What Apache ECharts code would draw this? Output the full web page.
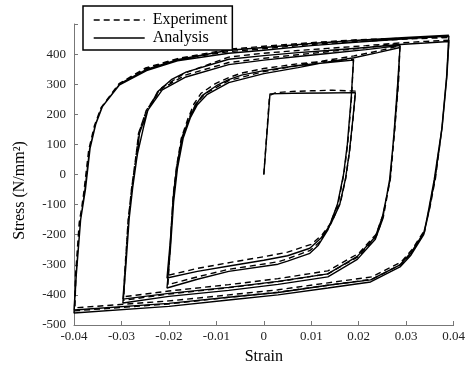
<!DOCTYPE html>
<html>
<head>
<meta charset="utf-8">
<script src="https://cdn.jsdelivr.net/npm/echarts@6/dist/echarts.min.js"></script>
<style>html,body{margin:0;padding:0;background:#fff}#c{width:468px;height:374px}</style>
</head>
<body>
<div id="c"></div>
<script>
// ---- data (strain, stress in N/mm^2) ----
const seriesNames = ['Experiment', 'Analysis'];
const xTicks = [-0.04, -0.03, -0.02, -0.01, 0, 0.01, 0.02, 0.03, 0.04];
const yTicks = [-500, -400, -300, -200, -100, 0, 100, 200, 300, 400];

const analysisPoints = [
  [0,0],[0.0013,268],[0.006,270],[0.013,271],[0.0193,272],
  [0.0188,190],[0.018,70],[0.0172,-15],[0.016,-100],[0.0141,-165],[0.012,-212],[0.0097,-245],[0.005,-270],[0,-285],[-0.007,-303],[-0.014,-322],[-0.0204,-344],
  [-0.0197,-220],[-0.019,-60],[-0.0183,30],[-0.0172,125],[-0.0158,181],[-0.0145,228],[-0.013,262],[-0.01,295],[-0.0074,315],[-0.0047,330],[0,345],[0.0072,362],[0.0135,372],[0.0189,380],
  [0.0184,250],[0.0176,100],[0.0168,0],[0.0155,-100],[0.0135,-184],[0.0115,-235],[0.0097,-262],[0.005,-288],[0.003,-298],[-0.0074,-322],[-0.014,-348],[-0.0204,-377],
  [-0.0197,-250],[-0.019,-90],[-0.0182,20],[-0.017,120],[-0.0155,188],[-0.014,232],[-0.012,265],[-0.0074,305],[0,335],[0.0072,355],[0.0135,374],[0.019,388],[0.024,405],[0.0287,422],
  [0.0282,300],[0.0275,150],[0.0266,-18],[0.025,-140],[0.0235,-207],[0.0197,-272],[0.0135,-330],[0.003,-355],[-0.0074,-375],[-0.02,-395],[-0.0297,-414],
  [-0.0291,-300],[-0.0284,-150],[-0.0276,-40],[-0.0268,50],[-0.0262,137],[-0.0245,212],[-0.0214,281],[-0.0164,324],[-0.0074,365],[0,380],[0.0072,392],[0.0135,402],[0.0215,415],[0.0287,428],
  [0.0283,300],[0.0275,140],[0.0265,-18],[0.025,-150],[0.0235,-215],[0.0197,-282],[0.0135,-340],[0.003,-365],[-0.0074,-385],[-0.02,-405],[-0.0297,-427],
  [-0.0291,-310],[-0.0283,-130],[-0.0275,-20],[-0.0266,70],[-0.0253,160],[-0.0245,210],[-0.0224,275],[-0.0195,315],[-0.0164,340],[-0.0074,383],[0,395],[0.0072,405],[0.0135,412],[0.0215,422],[0.0287,432],[0.034,437],[0.039,442],
  [0.0385,320],[0.0375,150],[0.036,-18],[0.0348,-120],[0.0337,-194],[0.031,-260],[0.0287,-300],[0.0225,-350],[0.0135,-368],[0.003,-392],[-0.0074,-408],[-0.02,-428],[-0.04,-450],
  [-0.0395,-320],[-0.0386,-150],[-0.0377,-51],[-0.0367,85],[-0.0355,165],[-0.0341,224],[-0.0304,298],[-0.0247,345],[-0.0182,378],[-0.0074,403],[0,413],[0.01,428],[0.02,440],[0.03,451],[0.039,460],
  [0.0385,320],[0.0375,150],[0.0359,-18],[0.0347,-120],[0.0337,-200],[0.031,-268],[0.0287,-307],[0.0225,-357],[0.0135,-377],[0.003,-400],[-0.0074,-417],[-0.02,-438],[-0.04,-460],
  [-0.0395,-330],[-0.0386,-150],[-0.0376,-51],[-0.0366,88],[-0.0354,168],[-0.034,226],[-0.0303,302],[-0.0246,350],[-0.018,382],[-0.0074,413],[0,422],[0.01,435],[0.02,446],[0.03,455],[0.039,463]
];

const experimentPoints = [
  [0,0],[0.0012,262],[0.0025,272],[0.006,276],[0.01,278],[0.0145,280],[0.0193,277],
  [0.0189,200],[0.0181,80],[0.0173,-10],[0.0162,-90],[0.0144,-155],[0.0123,-200],[0.01,-232],[0.005,-258],[0,-273],[-0.007,-292],[-0.014,-312],[-0.0202,-335],
  [-0.0197,-230],[-0.0191,-70],[-0.0184,25],[-0.0174,120],[-0.016,185],[-0.0147,235],[-0.0132,270],[-0.0102,302],[-0.0074,322],[-0.0047,337],[0,352],[0.0072,368],[0.0135,377],[0.0189,383],
  [0.0185,260],[0.0177,105],[0.0169,5],[0.0157,-95],[0.0137,-175],[0.0117,-225],[0.0098,-252],[0.005,-280],[0.003,-290],[-0.0074,-315],[-0.014,-340],[-0.0202,-366],
  [-0.0198,-260],[-0.0192,-100],[-0.0184,15],[-0.0172,118],[-0.0157,190],[-0.0142,237],[-0.0122,270],[-0.0074,312],[0,342],[0.0072,362],[0.0135,380],[0.019,394],[0.024,410],[0.0287,428],
  [0.0283,310],[0.0276,160],[0.0267,-10],[0.0252,-130],[0.0237,-198],[0.02,-262],[0.0135,-320],[0.003,-346],[-0.0074,-366],[-0.02,-387],[-0.0295,-406],
  [-0.0292,-310],[-0.0286,-150],[-0.0278,-40],[-0.027,50],[-0.0264,137],[-0.0247,214],[-0.0216,284],[-0.0166,330],[-0.0074,372],[0,386],[0.0072,398],[0.0135,408],[0.0215,421],[0.0287,436],
  [0.0284,310],[0.0276,150],[0.0267,-10],[0.0252,-140],[0.0237,-205],[0.02,-272],[0.0135,-330],[0.003,-356],[-0.0074,-376],[-0.02,-397],[-0.0296,-418],
  [-0.0293,-320],[-0.0286,-160],[-0.0279,-50],[-0.027,55],[-0.0263,140],[-0.0248,212],[-0.0218,285],[-0.0168,336],[-0.0074,390],[0,403],[0.0072,412],[0.0135,419],[0.0215,428],[0.0287,437],[0.034,442],[0.039,446],
  [0.0386,330],[0.0376,160],[0.0362,-10],[0.035,-110],[0.0339,-185],[0.0312,-250],[0.029,-290],[0.0228,-340],[0.0135,-360],[0.003,-383],[-0.0074,-400],[-0.02,-420],[-0.0398,-443],
  [-0.0396,-330],[-0.0388,-160],[-0.0379,-55],[-0.0369,82],[-0.0357,162],[-0.0343,222],[-0.0306,300],[-0.025,350],[-0.0184,382],[-0.0074,408],[0,418],[0.01,432],[0.02,442],[0.03,450],[0.039,455],
  [0.0386,330],[0.0376,160],[0.0361,-10],[0.0349,-110],[0.0339,-190],[0.0312,-258],[0.029,-298],[0.0228,-348],[0.0135,-368],[0.003,-391],[-0.0074,-408],[-0.02,-430],[-0.0399,-453],
  [-0.0397,-340],[-0.0389,-160],[-0.0378,-55],[-0.0368,85],[-0.0356,166],[-0.0342,224],[-0.0305,302],[-0.0249,354],[-0.0182,385],[-0.0074,416],[0,426],[0.01,438],[0.02,448],[0.03,453],[0.039,458]
];

const FONT = '"Liberation Serif", "Times New Roman", serif';
const chart = echarts.init(document.getElementById('c'), null, {renderer: 'canvas'});
chart.setOption({
  animation: false,
  backgroundColor: '#fff',
  textStyle: {fontFamily: FONT},
  grid: {left: 74, right: 11, top: 24, bottom: 49},
  legend: {
    orient: 'vertical', left: 83, top: 6,
    padding: [6, 5, 4, 10], itemGap: 2, itemWidth: 51, itemHeight: 14,
    borderColor: '#000', borderWidth: 1.5, backgroundColor: '#fff',
    itemStyle: {opacity: 0, borderWidth: 0},
    lineStyle: {width: 1.4},
    textStyle: {fontFamily: FONT, fontSize: 16, color: '#000', padding: [0, 0, 0, 3]},
    data: seriesNames
  },
  xAxis: {
    type: 'value', min: xTicks[0], max: xTicks[xTicks.length - 1], interval: 0.01,
    name: 'Strain', nameLocation: 'middle', nameGap: 24,
    nameTextStyle: {fontFamily: FONT, fontSize: 16, color: '#000'},
    axisLine: {show: true, onZero: false, lineStyle: {color: '#777', width: 1}},
    axisTick: {show: true, inside: true, length: 4, lineStyle: {color: '#777'}},
    axisLabel: {fontFamily: FONT, fontSize: 13, color: '#222', margin: 5,
      formatter: v => String(Math.round(v * 100) / 100)},
    splitLine: {show: false}
  },
  yAxis: {
    type: 'value', min: -500, max: 500, interval: 100,
    name: 'Stress (N/mm²)', nameLocation: 'middle', nameGap: 46,
    nameTextStyle: {fontFamily: FONT, fontSize: 16, color: '#000', padding: [0, 32, 0, 0]},
    axisLine: {show: true, onZero: false, lineStyle: {color: '#777', width: 1}},
    axisTick: {show: true, inside: true, length: 4, lineStyle: {color: '#777'}},
    axisLabel: {fontFamily: FONT, fontSize: 13, color: '#222', margin: 8,
      formatter: v => (yTicks.indexOf(v) >= 0 ? String(v) : '')},
    splitLine: {show: false}
  },
  series: [
    {name: seriesNames[0], type: 'line', data: experimentPoints, symbol: 'none', smooth: false,
     lineStyle: {color: '#000', width: 1.4, type: [6, 4]}, itemStyle: {color: '#000'}, z: 3},
    {name: seriesNames[1], type: 'line', data: analysisPoints, symbol: 'none', smooth: false,
     lineStyle: {color: '#000', width: 1.4, type: 'solid'}, itemStyle: {color: '#000'}, z: 2}
  ]
});
</script>
</body>
</html>
